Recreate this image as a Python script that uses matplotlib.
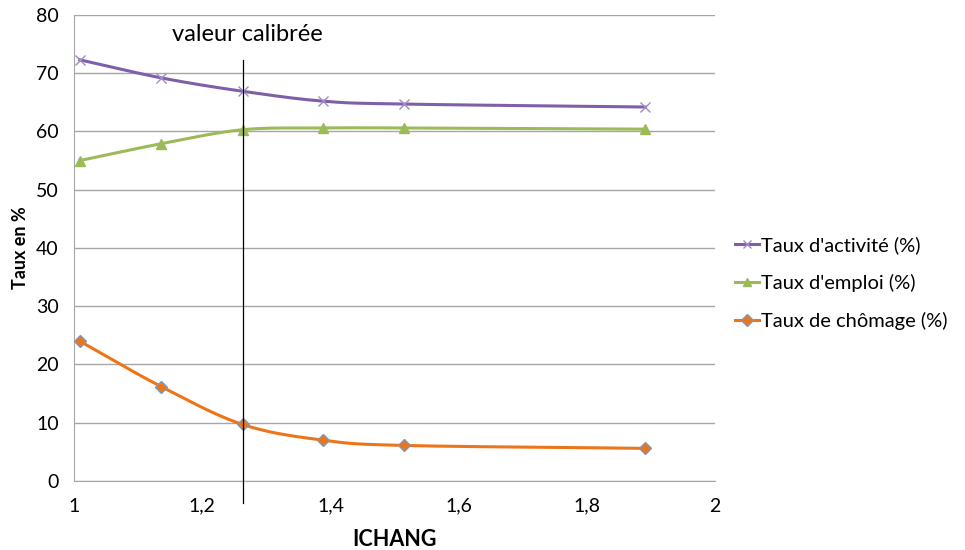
import numpy as np
import matplotlib.pyplot as plt

plt.rcParams['font.family'] = ['Lato', 'DejaVu Sans']

ichang = [1.009, 1.136, 1.263, 1.389, 1.515, 1.891]
activite = [72.3, 69.2, 66.9, 65.2, 64.7, 64.2]
emploi = [55.0, 57.9, 60.3, 60.6, 60.6, 60.4]
chomage = [24.0, 16.2, 9.7, 7.0, 6.1, 5.6]
x_calib = 1.263


def smooth(x, y, n=30):
    # Catmull-Rom curve through the points, like Excel's smoothed lines
    x = np.asarray(x, float)
    y = np.asarray(y, float)
    px = np.r_[2 * x[0] - x[1], x, 2 * x[-1] - x[-2]]
    py = np.r_[2 * y[0] - y[1], y, 2 * y[-1] - y[-2]]
    t = np.linspace(0, 1, n)
    xs, ys = [], []
    for i in range(1, len(px) - 2):
        for p, out in ((px, xs), (py, ys)):
            p0, p1, p2, p3 = p[i - 1], p[i], p[i + 1], p[i + 2]
            out.extend(0.5 * (2 * p1 + (-p0 + p2) * t
                              + (2 * p0 - 5 * p1 + 4 * p2 - p3) * t ** 2
                              + (-p0 + 3 * p1 - 3 * p2 + p3) * t ** 3))
    return xs, ys


fig = plt.figure(figsize=(9.65, 5.5), dpi=100)
ax = fig.add_axes([0.0767, 0.1255, 0.6643, 0.8473])

series = [
    (activite, "Taux d'activité (%)", '#7F5FA8', 'x', '#A08BC4', '#A08BC4'),
    (emploi, "Taux d'emploi (%)", '#9BBB59', '^', '#9BBB59', '#9BBB59'),
    (chomage, 'Taux de chômage (%)', '#EE7418', 'D', '#EE7418', '#7F98B8'),
]
for vals, lab, col, mk, mfc, mec in series:
    sx, sy = smooth(ichang, vals)
    ax.plot(sx, sy, color=col, lw=2.2, zorder=3)
    ax.plot(ichang, vals, ls='none', marker=mk, ms=6.5, mfc=mfc, mec=mec,
            mew=1.0, zorder=4)
    ax.plot([], [], color=col, lw=2.2, marker=mk, ms=6, mfc=mfc, mec=mec,
            label=lab)

ax.plot([x_calib, x_calib], [72.3, -3.7], color='black', lw=0.9,
        clip_on=False, zorder=5)
ax.text(1.27, 76.6, 'valeur calibrée', fontsize=17, ha='center', va='center')

ax.set_xlim(1, 2)
ax.set_ylim(0, 80)
ax.set_xticks(np.arange(1, 2.01, 0.2))
ax.set_xticklabels(['1', '1,2', '1,4', '1,6', '1,8', '2'])
ax.set_yticks(range(0, 81, 10))
ax.tick_params(labelsize=14, length=0)
ax.tick_params(axis='x', pad=12)
ax.tick_params(axis='y', pad=11)
ax.yaxis.grid(True, color='#A6A6A6', lw=1)
ax.set_axisbelow(True)
for s in ['top', 'right']:
    ax.spines[s].set_visible(False)
for s in ['left', 'bottom']:
    ax.spines[s].set_color('#A6A6A6')

ax.set_xlabel('ICHANG', fontsize=15.5, fontweight='bold', labelpad=10)
ax.set_ylabel('Taux en %', fontsize=13, fontweight='bold', labelpad=5)

ax.legend(loc='center left', bbox_to_anchor=(1.0, 0.425), frameon=False,
          fontsize=14.5, handlelength=1.2, handletextpad=0.1,
          labelspacing=0.98, borderaxespad=0.6)

fig.savefig('out.png', dpi=100)
